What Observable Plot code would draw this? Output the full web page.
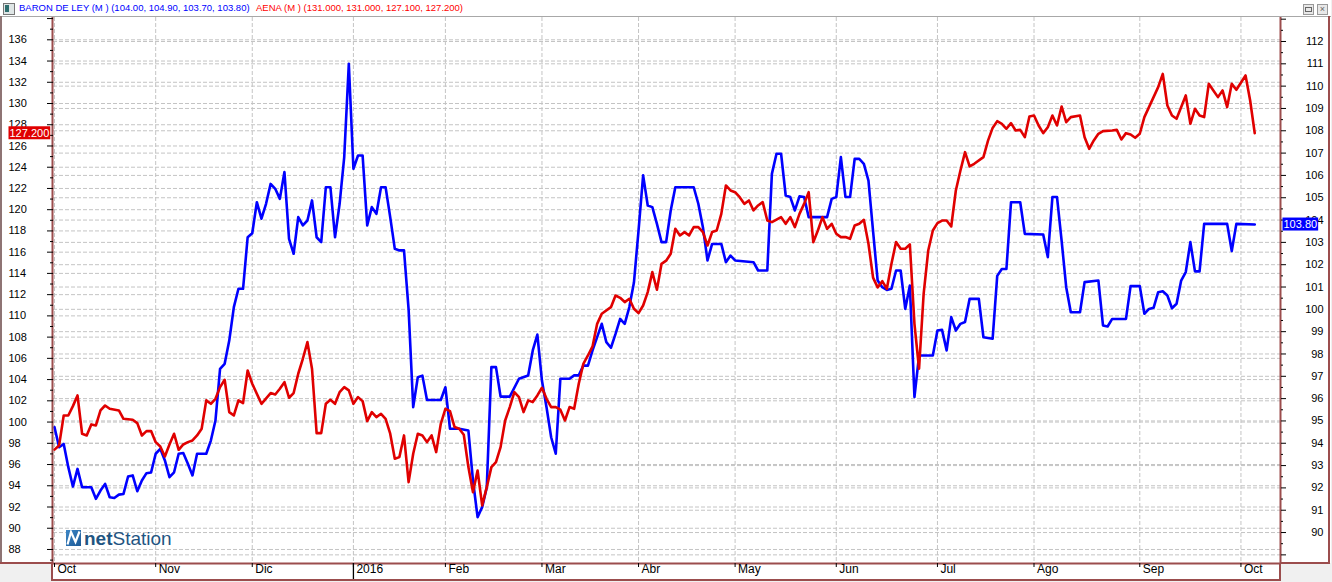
<!DOCTYPE html>
<html><head><meta charset="utf-8">
<script src="https://cdn.jsdelivr.net/npm/d3@7"></script>
<script src="https://cdn.jsdelivr.net/npm/@observablehq/plot@0.6"></script>
<style>
html,body{margin:0;padding:0;background:#f0f0f0;}
#wrap{position:relative;width:1332px;height:582px;overflow:hidden;font-family:"Liberation Sans",Arial,sans-serif;background:#f0f0f0;}
.abs{position:absolute;}
</style></head><body><div id="wrap">
<div class="abs" style="left:0;top:0;width:1331px;height:563px;background:#fff"></div>
<div class="abs" style="left:52px;top:563px;width:1228px;height:17px;background:#fff"></div>
<div id="chart" class="abs" style="left:0;top:16px"></div>
<!-- chrome -->
<div class="abs" style="left:0;top:16px;width:1331px;height:1px;background:#a8a8a8"></div>
<div class="abs" style="left:0;top:16px;width:2px;height:548px;background:#8e7474"></div>
<div class="abs" style="left:0;top:562px;width:52px;height:2px;background:#9b4d4d"></div>
<div class="abs" style="left:1280px;top:562px;width:50px;height:2px;background:#9b4d4d"></div>
<div class="abs" style="left:1328px;top:16px;width:2px;height:548px;background:#9b4d4d"></div>
<div class="abs" style="left:51px;top:563px;width:2px;height:18px;background:#9b4d4d"></div>
<div class="abs" style="left:1279px;top:563px;width:2px;height:18px;background:#9b4d4d"></div>
<div class="abs" style="left:51px;top:579px;width:1230px;height:2px;background:#9b4d4d"></div>
<!-- header -->
<div class="abs" style="left:3px;top:3px;width:10px;height:10px;border:1px solid #777;background:#dfe6e6"></div>
<div class="abs" style="left:5px;top:5px;width:4px;height:7px;background:#2f6f6f"></div>
<div id="hdrA" class="abs" style="left:19px;top:1px;font-size:9.5px;line-height:14px;color:#0000ff;white-space:pre"></div>
<div id="hdrB" class="abs" style="left:256px;top:1px;font-size:9.5px;line-height:14px;color:#ff0000;white-space:pre"></div>
<div class="abs" style="left:1303px;top:4px;width:9px;height:9px;border:1px solid #999;background:#e8e8e8"></div>
<div class="abs" style="left:1305px;top:7px;width:5px;height:3px;border:1px solid #666"></div>
<div class="abs" style="left:1317px;top:4px;width:9px;height:9px;border:1px solid #999;background:#e8e8e8;font-size:9px;line-height:9px;text-align:center;color:#666">×</div>
<!-- logo -->
<svg class="abs" style="left:66px;top:530px" width="15" height="16" viewBox="0 0 15 16">
<defs><linearGradient id="lg" x1="0" y1="0" x2="1" y2="1"><stop offset="0" stop-color="#3d86c6"/><stop offset="1" stop-color="#1d5a96"/></linearGradient></defs>
<rect x="0" y="0" width="15" height="16" fill="url(#lg)"/>
<polyline points="1.5,14.5 5,2 9.5,12 13.5,1.5" fill="none" stroke="#fff" stroke-width="2.2"/>
</svg>
<div class="abs" style="left:84px;top:529px;font-size:19px;line-height:19px;color:#1f5582;white-space:pre"><b>net</b>Station</div>
</div>
<script>
// ---------------- data ----------------
const serieAzul = "BARON DE LEY (M ) (104.00, 104.90, 103.70, 103.80)";
const serieRoja = "AENA (M ) (131.000, 131.000, 127.100, 127.200)";
const mesEtiquetas = ["Oct","Nov","Dic","2016","Feb","Mar","Abr","May","Jun","Jul","Ago","Sep","Oct"];
const festivos = ["2015-12-25","2016-01-01","2016-03-25","2016-03-28"];
const ticksIzq = d3.range(88, 137, 2);      // AENA axis labels
const ticksDer = d3.range(90, 113, 1);      // BARON DE LEY axis labels

// session index (trading day since 1 Oct 2015) and close, BARON DE LEY (right axis)
const azulSesion = [0,1,2,3,4,5,6,8,9,10,11,12,13,14,15,16,17,18,19,20,21,22,23,24,25,26,27,28,29,30,31,33,34,35,36,37,38,39,40,41,42,43,44,45,46,47,48,49,50,51,52,53,54,55,56,57,58,59,60,61,62,63,64,65,66,67,68,69,70,71,72,73,74,75,76,77,78,79,80,81,84,85,86,88,90,91,92,93,94,95,96,97,99,101,103,104,105,106,107,108,109,110,112,113,114,115,116,117,119,120,121,122,123,124,125,126,127,128,129,130,131,132,133,134,135,139,140,141,142,143,145,146,147,148,152,153,155,156,157,158,159,160,161,162,163,164,168,169,170,171,172,173,174,175,176,177,178,179,180,181,182,183,184,185,186,187,188,191,192,193,194,195,196,197,198,199,201,202,204,205,206,207,208,210,211,215,216,217,218,219,220,221,223,224,227,228,229,230,233,234,236,237,238,239,240,241,242,243,244,245,246,247,248,249,250,255,256,257,261];
const azulValor = [94.72,93.82,93.97,92.93,92.06,92.85,92.03,92.03,91.51,91.88,92.18,91.58,91.55,91.70,91.73,92.51,92.56,91.85,92.33,92.66,92.69,93.53,93.75,93.23,92.48,92.70,93.53,93.56,93.08,92.56,93.53,93.53,94.12,95.02,97.33,97.56,98.6,100.10,100.92,100.92,103.23,103.41,104.80,104.06,104.73,105.62,105.40,104.95,106.15,103.16,102.49,104.13,103.76,103.98,104.88,103.23,103.01,105.47,105.47,103.23,104.73,106.82,111.00,106.30,106.89,106.89,103.76,104.58,104.28,105.47,105.47,104.13,102.71,102.64,102.64,100.0,95.62,96.96,97.03,95.94,95.94,96.51,94.65,94.65,94.57,92.33,90.69,91.14,92.03,97.41,97.41,96.09,96.09,96.89,97.04,98.16,98.87,96.8,95.6,94.27,93.53,96.89,96.89,97.04,97.04,97.48,97.48,98.16,99.35,98.53,98.28,98.90,99.57,99.35,100.10,101.2,103.53,106.0,104.65,104.58,103.83,103.01,103.01,104.43,105.47,105.47,104.73,103.68,102.19,102.93,102.93,102.11,102.41,102.19,102.11,101.74,101.74,106.07,106.97,106.97,105.1,105.03,104.43,105.06,105.03,104.13,104.13,104.95,105.03,106.82,105.03,105.03,106.74,106.74,106.52,105.77,103.5,101.29,100.99,100.87,100.92,101.74,101.74,100.02,101.07,96.07,97.93,97.93,99.05,99.08,98.16,99.65,99.05,99.35,99.43,100.47,100.47,98.75,98.68,101.5,101.81,101.81,104.80,104.80,103.38,103.35,102.34,105.03,105.03,103.08,100.99,99.87,99.87,101.22,101.29,99.28,99.23,99.57,99.57,101.04,101.04,99.80,100.02,100.07,100.77,100.81,100.62,100.05,100.25,101.29,101.67,103.01,101.70,101.70,103.83,103.83,102.61,103.83,103.80];

// session index and close, AENA (left axis)
const rojoSesion = [0,1,2,3,4,5,6,7,8,9,10,11,12,14,15,17,18,19,20,21,22,23,24,25,26,27,28,29,30,31,32,33,34,35,36,37,38,39,40,41,42,43,45,47,48,49,50,51,52,53,54,55,56,57,58,59,60,61,62,63,64,65,66,67,68,69,70,71,72,73,74,75,76,77,78,79,80,81,82,83,84,85,86,87,88,89,90,91,92,93,94,95,96,97,98,99,100,101,102,103,104,105,106,107,108,109,110,111,112,113,114,115,116,117,118,119,121,122,123,124,125,126,127,128,129,130,131,132,133,134,135,136,137,138,139,140,141,142,143,144,145,146,147,148,149,150,151,152,153,154,155,156,158,159,160,161,162,163,164,165,166,167,168,169,170,171,172,173,174,175,176,177,178,179,180,181,182,183,184,185,186,187,188,189,190,191,192,193,194,195,196,197,198,199,200,202,203,204,205,206,207,208,209,210,211,212,213,214,215,216,217,218,219,220,221,223,224,225,226,227,228,230,231,232,233,234,235,236,237,238,240,241,242,243,244,246,247,248,249,250,251,252,253,254,255,256,257,259,260,261];
const rojoValor = [97.4,97.80,100.62,100.62,101.5,102.51,98.90,98.74,99.78,99.68,101.09,101.56,101.25,101.09,100.31,100.22,99.90,98.74,99.15,99.15,98.11,97.70,96.76,97.89,98.90,97.39,97.89,98.11,98.27,98.74,99.37,102.04,101.72,102.19,103.29,103.98,100.94,100.62,102.04,101.78,104.86,103.61,101.72,102.73,102.60,103.14,103.76,102.29,102.73,104.55,105.96,107.53,105.0,98.96,98.96,101.72,102.10,101.72,102.82,103.29,102.98,101.72,102.35,101.97,100.09,100.94,100.47,100.78,100.31,98.90,96.54,96.70,98.74,94.34,97.01,98.90,98.74,98.11,98.74,97.17,99.84,101.25,101.03,99.53,99.37,98.8,95.76,93.40,95.44,92.15,93.87,95.76,96.23,97.64,100.15,101.41,102.82,102.35,100.94,102.04,101.88,102.51,103.23,102.19,101.41,101.41,101.16,100.15,101.41,101.25,103.61,105.49,106.27,107.12,109.25,110.20,110.82,111.92,111.70,111.30,111.61,110.67,110.26,110.98,112.24,114.12,112.46,114.90,115.2,115.85,118.20,117.57,117.89,117.57,118.36,118.36,117.89,116.63,117.89,118.04,119.61,122.28,121.81,121.65,121.18,120.55,120.87,119.93,120.40,120.71,118.98,118.83,119.30,118.67,119.30,118.36,119.61,120.55,121.65,116.94,118.04,119.30,118.20,118.67,117.73,117.42,117.42,117.26,118.51,118.67,119.05,116.79,113.6,112.68,113.27,112.55,114.91,116.95,116.32,116.32,116.73,109.25,105.02,112.08,116.16,118.04,118.73,118.98,118.98,118.42,121.81,123.69,125.42,124.07,124.32,124.95,126.5,127.7,128.34,128.09,127.62,128.15,127.46,127.52,126.83,128.78,128.87,127.93,127.21,127.77,128.87,127.93,129.72,128.24,128.72,128.87,126.83,125.73,126.52,127.15,127.40,127.46,127.52,126.61,127.21,127.08,126.77,127.15,128.72,129.66,131.54,132.79,129.81,128.87,128.56,130.76,128.09,129.50,128.87,128.72,131.85,131.23,130.60,131.23,129.66,131.85,131.29,132.64,130.28,127.20];

// ---------------- build ----------------
document.getElementById("hdrA").textContent = serieAzul;
document.getElementById("hdrB").textContent = serieRoja;

// trading calendar -> first session of each month
const sesiones = [];
for (let d = new Date(Date.UTC(2015, 9, 1)); d <= Date.UTC(2016, 9, 10); d = new Date(d.getTime() + 864e5)) {
  const wd = d.getUTCDay(), iso = d.toISOString().slice(0, 10);
  if (wd === 0 || wd === 6 || festivos.includes(iso)) continue;
  sesiones.push(d);
}
const inicioMes = [];
sesiones.forEach((d, i) => { if (i === 0 || d.getUTCMonth() !== sesiones[i - 1].getUTCMonth()) inicioMes.push(i); });
const meses = mesEtiquetas.map((m, i) => ({t: inicioMes[i], m}));

const yDom = [86.68, 138.1];       // left (AENA) scale
const bDom = [88.613, 113.075];    // right (BARON) scale
const toL = b => yDom[0] + (b - bDom[0]) * (yDom[1] - yDom[0]) / (bDom[1] - bDom[0]);
const xDom = [-0.22, 266.6];

const azul = azulSesion.map((t, i) => ({t, v: azulValor[i]}));
const rojo = rojoSesion.map((t, i) => ({t, v: rojoValor[i]}));
const izqMayor = d3.range(88, 139, 2), izqMenor = d3.range(87, 138, 2);
const derMayor = d3.range(89, 114, 1), derMenor = d3.range(89.5, 113, 1);
const brown = "#9b4d4d", grid = "#c4c4c4";
const ultR = rojo[rojo.length - 1], ultA = azul[azul.length - 1];
const txtR = ultR.v.toFixed(3), txtA = ultA.v.toFixed(2);

const chart = Plot.plot({
  width: 1332, height: 566,
  marginTop: 1, marginBottom: 19, marginLeft: 53, marginRight: 52,
  x: {type: "linear", domain: xDom, axis: null},
  y: {type: "linear", domain: yDom, axis: null},
  style: {fontFamily: "'Liberation Sans', Arial, sans-serif", fontSize: "11px", background: "transparent", overflow: "visible", color: "#000"},
  marks: [
    Plot.ruleY(izqMayor.filter(v => v <= 136), {y: d => d, stroke: grid, strokeDasharray: "4,2"}),
    Plot.ruleY(derMayor.filter(v => v <= 112), {y: d => toL(d), stroke: grid, strokeDasharray: "4,2"}),
    Plot.ruleX(meses, {x: "t", stroke: grid, strokeDasharray: "4,2"}),
    Plot.line(azul, {x: "t", y: d => toL(d.v), stroke: "#0000ff", strokeWidth: 2.6, strokeLinejoin: "round"}),
    Plot.line(rojo, {x: "t", y: "v", stroke: "#e00000", strokeWidth: 2.6, strokeLinejoin: "round"}),
    // axis lines
    Plot.ruleX([xDom[0]], {stroke: brown, strokeWidth: 2, dx: -1}),
    Plot.ruleX([xDom[1]], {stroke: brown, strokeWidth: 2}),
    Plot.ruleY([yDom[0]], {stroke: brown, strokeWidth: 2}),
    // ticks
    Plot.axisY(izqMayor, {anchor: "left", tickSize: 6, fill: "none", label: null, stroke: "#000"}),
    Plot.axisY(izqMenor, {anchor: "left", tickSize: 3, fill: "none", label: null, stroke: "#000"}),
    Plot.axisY(derMayor.map(toL), {anchor: "right", tickSize: 5, fill: "none", label: null, stroke: "#000"}),
    Plot.axisY(derMenor.map(toL), {anchor: "right", tickSize: 2, fill: "none", label: null, stroke: "#000"}),
    Plot.axisX(inicioMes.slice(0, mesEtiquetas.length), {anchor: "bottom", tickSize: 4, fill: "none", label: null, stroke: "#000"}),
    Plot.axisX([inicioMes[3]], {anchor: "bottom", tickSize: 17, fill: "none", label: null, stroke: "#000", strokeWidth: 1.3}),
    // tick labels
    Plot.text(ticksIzq, {y: d => d, text: d => String(d), frameAnchor: "left", dx: -45, textAnchor: "start", fill: "#000", fontSize: 11}),
    Plot.text(ticksDer, {y: d => toL(d), text: d => String(d), frameAnchor: "right", dx: 43, textAnchor: "end", fill: "#000", fontSize: 11}),
    Plot.text(meses, {x: "t", text: "m", frameAnchor: "bottom", dy: 9, dx: 3, textAnchor: "start", fill: "#000", fontSize: 12}),
    // last value labels
    Plot.text([ultR], {y: "v", text: () => txtR, frameAnchor: "left", dx: -44, textAnchor: "start", fill: "#fff", fontSize: 11}),
    Plot.text([ultA], {y: d => toL(d.v), text: () => txtA, frameAnchor: "right", dx: 3, textAnchor: "start", fill: "#fff", fontSize: 11})
  ]
});
document.getElementById("chart").appendChild(chart);

// background boxes behind the last-value labels
const NS = "http://www.w3.org/2000/svg";
for (const [lab, col] of [[txtR, "#e00000"], [txtA, "#0000ff"]]) {
  const t = Array.from(chart.querySelectorAll("text")).find(e => e.textContent === lab);
  if (!t) continue;
  const b = t.getBBox();
  const r = document.createElementNS(NS, "rect");
  r.setAttribute("x", b.x - 1); r.setAttribute("y", b.y - 0.5);
  r.setAttribute("width", b.width + 2); r.setAttribute("height", b.height + 1);
  r.setAttribute("fill", col);
  const tr = t.getAttribute("transform"); if (tr) r.setAttribute("transform", tr);
  t.parentNode.insertBefore(r, t);
}
</script>
</body></html>
